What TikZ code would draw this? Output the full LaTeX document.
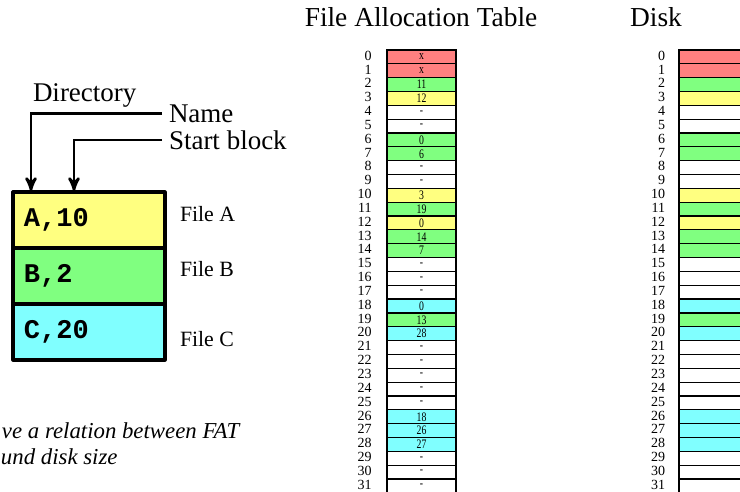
\documentclass[tikz,border=0pt]{standalone}
\usepackage{fontspec}
\setmainfont{Liberation Serif}
\setmonofont{Liberation Mono}
\usepackage{xcolor}
\usetikzlibrary{arrows,positioning}
\definecolor{fatred}{HTML}{FF8080}
\definecolor{fatgreen}{HTML}{80FF80}
\definecolor{fatyellow}{HTML}{FFFF80}
\definecolor{fatcyan}{HTML}{80FFFF}

\begin{document}
\begin{tikzpicture}[x=0.5pt,y=-0.5pt,>=stealth',
every node/.style={inner sep=0pt, outer sep=0pt},
cell/.style={draw=black, line width=0.6pt, minimum width=34.5pt,
    minimum height=6.92pt, font=\fontsize{6.5}{6.5}\selectfont},
rowno/.style={anchor=east, font=\fontsize{7}{7}\selectfont},
dirrow/.style={draw=black, line width=1.6pt, line join=round,
    minimum height=28pt, text width=65pt, inner xsep=5.5pt, align=left,
    font=\fontsize{13.5}{13.5}\selectfont\ttfamily\bfseries},
tabtitle/.style={anchor=base, font=\fontsize{13.7}{16}\selectfont},
lbl/.style={font=\fontsize{13.5}{16}\selectfont},
filelbl/.style={anchor=base west, font=\fontsize{10.9}{13}\selectfont},
note/.style={anchor=base west, font=\fontsize{11.4}{13}\selectfont\itshape},
pointer/.style={->, line width=1.35pt}]
\useasboundingbox (0,0) rectangle (740,492);
\clip (0,0) rectangle (740,492);

\node[lbl, anchor=base west] (dirlbl) at (33,101.7) {Directory};
\node[lbl, anchor=west, inner xsep=3.5pt] (nm) at (162,113.3) {Name};
\node[lbl, anchor=west, inner xsep=3.5pt] (sb) at (162,140) {Start block};
\node[dirrow, fill=fatyellow] (dira) at (89,220) {A,10};
\node[dirrow, fill=fatgreen, below=0pt of dira] (dirb) {B,2};
\node[dirrow, fill=fatcyan, below=0pt of dirb] (dirc) {C,20};
\coordinate (nmend) at (31,191);
\coordinate (sbend) at (74,191);
\draw[pointer] (nm.west) -| (nmend);
\draw[pointer] (sb.west) -| (sbend);
\node[filelbl] (filea) at (180,221.7) {File A};
\node[filelbl] (fileb) at (180,276.7) {File B};
\node[filelbl] (filec) at (180,346) {File C};
\node[note] (notea) at (2,438) {ve a relation between FAT};
\node[note] (noteb) at (1,464) {und disk size};

\node[tabtitle] (fattitle) at (421,27) {File Allocation Table};
\node[tabtitle] (disktitle) at (656,27) {Disk};
\foreach \v/\c [count=\i from 0] in {x/fatred, x/fatred, 11/fatgreen,
    12/fatyellow, -/white, -/white, 0/fatgreen, 6/fatgreen, -/white, -/white,
    3/fatyellow, 19/fatgreen, 0/fatyellow, 14/fatgreen, 7/fatgreen, -/white,
    -/white, -/white, 0/fatcyan, 13/fatgreen, 28/fatcyan, -/white, -/white,
    -/white, -/white, -/white, 18/fatcyan, 26/fatcyan, 27/fatcyan, -/white,
    -/white, -/white}{
  \node[cell, fill=\c] (fat\i) at (421.5,{56.9+13.84*\i}) {\scalebox{0.75}[1]{\v}};
  \node[cell, fill=\c] (disk\i) at (713.5,{56.9+13.84*\i}) {};
  \node[rowno] (fatno\i) at (371.5,{55.6+13.84*\i}) {\i};
  \node[rowno] (diskno\i) at (665,{55.6+13.84*\i}) {\i};
}
\end{tikzpicture}
\end{document}
